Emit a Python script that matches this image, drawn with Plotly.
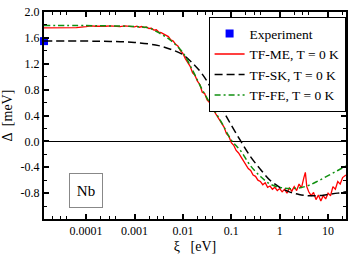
import plotly.graph_objects as go

# ---------------- data ----------------
exp_xi = [1.35e-5]
exp_delta = [1.55]

sk_xi = [1.35e-5, 1e-4, 3.16e-4, 1e-3, 3.16e-3, 6.31e-3, 1e-2, 1.58e-2, 2.51e-2, 3.98e-2,
         6.31e-2, 0.1, 0.158, 0.251, 0.398, 0.631, 1.0, 1.58, 2.51, 3.98, 6.31, 10.0, 15.8, 23.4]
sk_delta = [1.55, 1.55, 1.545, 1.53, 1.48, 1.41, 1.34, 1.21, 1.04, 0.80,
            0.52, 0.25, 0.0, -0.24, -0.43, -0.60, -0.71, -0.78, -0.82, -0.84, -0.84, -0.82, -0.80, -0.78]

fe_xi = [1.35e-5, 1e-4, 3.16e-4, 1e-3, 2e-3, 3.16e-3, 5.62e-3, 1e-2, 1.58e-2, 2.51e-2,
         3.98e-2, 6.31e-2, 0.1, 0.158, 0.251, 0.398, 0.631, 1.0, 1.58, 2.51, 3.98, 6.31, 10.0, 15.8, 23.4]
fe_delta = [1.79, 1.79, 1.785, 1.775, 1.75, 1.68, 1.56, 1.37, 1.10, 0.80,
            0.54, 0.29, 0.02, -0.15, -0.38, -0.54, -0.66, -0.71, -0.73, -0.72, -0.68, -0.61, -0.53, -0.45, -0.38]

me_logxi = [-4.87, -4.6, -4.4, -4.2, -4.0, -3.9, -3.8, -3.7, -3.6, -3.5, -3.4, -3.3, -3.2, -3.1,
            -3.0, -2.95, -2.9, -2.85, -2.8, -2.75, -2.7, -2.65, -2.6, -2.55, -2.5, -2.45, -2.4,
            -2.35, -2.3, -2.25, -2.2, -2.15, -2.1, -2.05, -2.0, -1.95, -1.9, -1.85, -1.8, -1.75,
            -1.7, -1.65, -1.6, -1.55, -1.5, -1.45, -1.4, -1.35, -1.3, -1.25, -1.2, -1.15, -1.1,
            -1.05, -1.0, -0.95, -0.9, -0.85, -0.8, -0.75, -0.7, -0.65, -0.6, -0.55, -0.5, -0.45,
            -0.4, -0.35, -0.3, -0.25, -0.2, -0.15, -0.1, -0.05, 0.0, 0.05, 0.1, 0.15, 0.2, 0.25,
            0.3, 0.35, 0.4, 0.45, 0.5, 0.53, 0.56, 0.6, 0.65, 0.7, 0.75, 0.8, 0.85, 0.9, 0.95,
            1.0, 1.05, 1.1, 1.15, 1.2, 1.25, 1.3, 1.37]
me_delta = [1.755, 1.755, 1.75, 1.76, 1.775, 1.785, 1.78, 1.775, 1.78, 1.785, 1.78, 1.775, 1.785, 1.78,
            1.77, 1.78, 1.765, 1.775, 1.76, 1.77, 1.745, 1.75, 1.72, 1.725, 1.69, 1.68, 1.66,
            1.635, 1.62, 1.57, 1.55, 1.50, 1.47, 1.40, 1.36, 1.28, 1.22, 1.16, 1.06, 1.02,
            0.93, 0.88, 0.76, 0.74, 0.64, 0.60, 0.52, 0.46, 0.40, 0.33, 0.27, 0.22, 0.12,
            0.08, -0.02, -0.06, -0.14, -0.18, -0.24, -0.30, -0.34, -0.42, -0.45, -0.52, -0.54, -0.60,
            -0.62, -0.67, -0.64, -0.71, -0.69, -0.74, -0.71, -0.76, -0.73, -0.78, -0.74, -0.80, -0.72, -0.77,
            -0.70, -0.76, -0.66, -0.72, -0.56, -0.48, -0.70, -0.78, -0.84, -0.79, -0.90, -0.83, -0.92, -0.84, -0.89,
            -0.80, -0.84, -0.70, -0.74, -0.62, -0.66, -0.56, -0.52]
me_xi = [10 ** v for v in me_logxi]

y_ticks = [-0.8, -0.4, 0.0, 0.4, 0.8, 1.2, 1.6, 2.0]
y_tick_text = ["-0.8", "-0.4", "0.0", "0.4", "0.8", "1.2", "1.6", "2.0"]
x_ticks = [1e-4, 1e-3, 1e-2, 1e-1, 1, 10]
x_tick_text = ["0.0001", "0.001", "0.01", "0.1", "1", "10"]
x_minor = [m * 10 ** k for k in range(-5, 2) for m in (2, 3, 4)]
y_minor = [-1.0, -0.6, -0.2, 0.2, 0.6, 1.0, 1.4, 1.8]

FONT = "Liberation Serif, Times New Roman, serif"

fig = go.Figure()
fig.add_trace(go.Scatter(x=exp_xi, y=exp_delta, mode="markers", name="Experiment",
                         marker=dict(symbol="square", size=8, color="#0000ff"), cliponaxis=False))
fig.add_trace(go.Scatter(x=me_xi, y=me_delta, mode="lines", name="TF-ME, T = 0 K",
                         line=dict(color="#ff0000", width=1.3)))
fig.add_trace(go.Scatter(x=sk_xi, y=sk_delta, mode="lines", name="TF-SK, T = 0 K",
                         line=dict(color="#000000", width=1.5, dash="8px,4px", shape="spline")))
fig.add_trace(go.Scatter(x=fe_xi, y=fe_delta, mode="lines", name="TF-FE, T = 0 K",
                         line=dict(color="#109010", width=1.5, dash="6px,3px,2px,3px", shape="spline")))

fig.update_layout(
    width=353, height=258,
    margin=dict(l=44, r=5, t=6, b=39),
    paper_bgcolor="white", plot_bgcolor="white",
    font=dict(family=FONT, size=12, color="black"),
    showlegend=True,
    legend=dict(x=0.545, y=0.975, xanchor="left", yanchor="top",
                bgcolor="white", bordercolor="black", borderwidth=1,
                font=dict(family=FONT, size=13.5), tracegroupgap=0, itemwidth=30),
)
fig.update_xaxes(
    type="log", range=[-4.87, 1.37],
    tickvals=x_ticks, ticktext=x_tick_text,
    ticks="inside", ticklen=5, tickwidth=1.5, tickcolor="black",
    minor=dict(tickvals=x_minor, ticks="inside", ticklen=3, tickwidth=1, tickcolor="black", showgrid=False),
    showline=True, linecolor="black", linewidth=2, mirror="ticks",
    showgrid=False, zeroline=False,
    title=dict(text="ξ   [eV]", font=dict(family=FONT, size=14), standoff=4),
    tickfont=dict(family=FONT, size=12),
)
fig.update_yaxes(
    range=[-1.2, 2.0],
    tickvals=y_ticks, ticktext=y_tick_text,
    ticks="inside", ticklen=5, tickwidth=1.5, tickcolor="black",
    minor=dict(tickvals=y_minor, ticks="inside", ticklen=3, tickwidth=1, tickcolor="black", showgrid=False),
    showline=True, linecolor="black", linewidth=2, mirror="ticks",
    showgrid=False, zeroline=True, zerolinecolor="black", zerolinewidth=1,
    title=dict(text="Δ  [meV]", font=dict(family=FONT, size=14), standoff=6),
    tickfont=dict(family=FONT, size=12),
)
fig.add_annotation(x=-4.01, y=-0.76, xref="x", yref="y", text="Nb", showarrow=False,
                   font=dict(family=FONT, size=15, color="black"),
                   bordercolor="#888888", borderwidth=1, borderpad=2, width=28, height=29,
                   bgcolor="white")

fig.write_html("out.html", config={"displayModeBar": False},
               post_script="document.body.style.margin='0';")
